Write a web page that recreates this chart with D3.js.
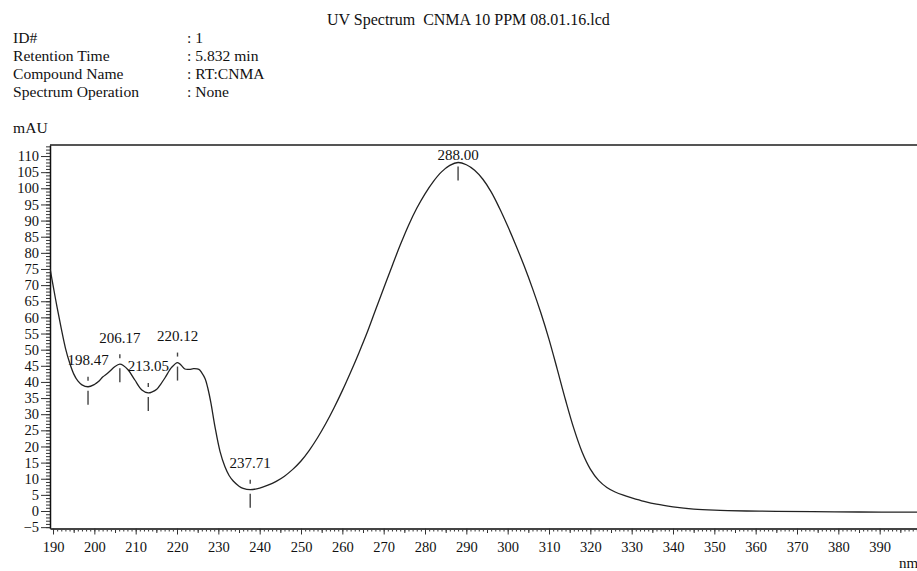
<!DOCTYPE html>
<html>
<head>
<meta charset="utf-8">
<script src="https://cdn.jsdelivr.net/npm/d3@7"></script>
<style>
  body { margin: 0; background: #fff; }
  svg { display: block; font-family: "Liberation Serif", "Times New Roman", serif; }
</style>
</head>
<body>
<div id="chart"></div>
<script>
// --- Data ---
const wavelengths = [189.3, 190, 191, 192, 193, 194, 195, 196, 197, 198.47, 200, 201, 202, 203.4, 205, 206.17,
  207, 208.2, 209.8, 211.5, 213.05, 214, 215.1, 216, 217.1, 218.7, 220.12, 221, 221.9, 223, 224, 225.3,
  226, 226.8, 227.5, 228.2, 229.2, 230.4, 231.6, 232.6, 233.6, 235, 236, 237.71,
  240, 242, 244, 246, 248, 250,
  252, 254, 256, 258, 260, 262, 264, 266, 268, 270, 272, 274, 276, 278, 280, 282, 284, 286, 288,
  290, 292, 294, 296, 298, 300, 302, 304, 306, 308, 310, 312, 314, 316, 318, 320, 322, 324, 326, 328, 330,
  333, 336, 340, 345, 350, 357.8, 365, 373.8, 385, 393, 401];
const absorbance = [75, 70, 63, 56.5, 50.5, 46, 42.5, 40.3, 39.1, 38.5, 39.2, 40.1, 41.5, 42.9, 44.8, 45.5,
  45.1, 43.7, 40.6, 37.5, 36.6, 36.9, 37.7, 39.2, 41.3, 44.5, 46.0, 45.2, 44.0, 43.9, 44.1, 43.9,
  42.8, 41.0, 37.8, 33.5, 26, 18.5, 13.7, 11.0, 9.3, 7.7, 7.0, 6.6,
  7.1, 8.0, 9.2, 10.8, 12.9, 15.5,
  18.8, 22.7, 27.1, 32.0, 37.3, 43.0, 49.0, 55.3, 62.2, 69.0, 75.8, 82.4, 88.5, 93.8, 98.3, 102.1, 105.1, 107.1, 108.0,
  107.3, 105.6, 102.8, 98.9, 93.9, 88.3, 82.3, 75.9, 69.0, 61.5, 53.2, 43.9, 34.4, 25.6, 18.3, 13.0, 9.5, 7.3, 5.9, 4.9, 4.1,
  3.0, 2.1, 1.3, 0.6, 0.25, 0.0, -0.1, -0.2, -0.3, -0.35, -0.35];

const peakNm = [198.47, 206.17, 213.05, 220.12, 237.71, 288.00];
const peakVal = [38.5, 45.5, 36.6, 46.0, 6.6, 108.0];

const headerLabels = ["ID#", "Retention Time", "Compound Name", "Spectrum Operation"];
const headerValues = [": 1", ": 5.832 min", ": RT:CNMA", ": None"];

const xMajorTicks = d3.range(190, 400, 10);
const yMajorTicks = d3.range(-5, 111, 5);

const chartTitle = "UV Spectrum  CNMA 10 PPM 08.01.16.lcd";

// --- Layout ---
const width = 917, height = 571;
const plot = { left: 50, top: 145, right: 921, bottom: 528.5 };
const ink = "#111";

const svg = d3.select("#chart").append("svg")
    .attr("width", width)
    .attr("height", height);

const x = d3.scaleLinear().domain([189.27, 400]).range([plot.left, plot.right]);
const y = d3.scaleLinear().domain([-5.42, 113.42]).range([plot.bottom, plot.top]);

// --- Title + header block ---
svg.append("text")
    .attr("x", 327).attr("y", 25)
    .attr("font-size", "16px")
    .attr("fill", ink)
    .style("white-space", "pre")
    .text(chartTitle);

const header = svg.append("g");
headerLabels.forEach((lbl, i) => {
    header.append("text")
        .attr("x", 13).attr("y", 43 + i * 18)
        .attr("font-size", "15.6px").attr("fill", ink)
        .text(lbl);
    header.append("text")
        .attr("x", 187).attr("y", 43 + i * 18)
        .attr("font-size", "15.6px").attr("fill", ink)
        .text(headerValues[i]);
});

svg.append("text")
    .attr("x", 13).attr("y", 133)
    .attr("font-size", "15.6px").attr("fill", ink)
    .text("mAU");

svg.append("text")
    .attr("x", 899).attr("y", 568)
    .attr("font-size", "15px").attr("fill", ink)
    .text("nm");

// --- Frame ---
svg.append("line")
    .attr("x1", plot.left).attr("x2", plot.right)
    .attr("y1", plot.top).attr("y2", plot.top)
    .attr("stroke", "#555").attr("stroke-width", 2);

// --- Axes ---
const yMinor = svg.append("g")
    .attr("transform", `translate(${plot.left},0)`)
    .call(d3.axisLeft(y).tickValues(d3.range(-5, 114, 1)).tickSize(4).tickFormat(""));
yMinor.select(".domain").remove();
yMinor.selectAll("line").attr("stroke", "#333");

const yAxis = svg.append("g")
    .attr("transform", `translate(${plot.left},0)`)
    .call(d3.axisLeft(y).tickValues(yMajorTicks).tickSize(9).tickSizeOuter(0).tickPadding(2));
yAxis.select(".domain").attr("stroke", ink).attr("stroke-width", 1.5);
yAxis.selectAll("line").attr("stroke", "#333");
yAxis.selectAll("text")
    .attr("font-family", "Liberation Serif")
    .attr("font-size", "14.5px")
    .attr("fill", ink);

const xMinor = svg.append("g")
    .attr("transform", `translate(0,${plot.bottom})`)
    .call(d3.axisBottom(x).tickValues(d3.range(190, 400, 1)).tickSize(3).tickFormat(""));
xMinor.select(".domain").remove();
xMinor.selectAll("line").attr("stroke", "#333");

const xMid = svg.append("g")
    .attr("transform", `translate(0,${plot.bottom})`)
    .call(d3.axisBottom(x).tickValues(d3.range(195, 400, 10)).tickSize(4.5).tickFormat(""));
xMid.select(".domain").remove();
xMid.selectAll("line").attr("stroke", "#333");

const xAxis = svg.append("g")
    .attr("transform", `translate(0,${plot.bottom})`)
    .call(d3.axisBottom(x).tickValues(xMajorTicks).tickSize(6).tickSizeOuter(0).tickPadding(7));
xAxis.select(".domain").attr("stroke", "#444").attr("stroke-width", 2);
xAxis.selectAll("line").attr("stroke", "#333");
xAxis.selectAll("text")
    .attr("font-family", "Liberation Serif")
    .attr("font-size", "14.5px")
    .attr("fill", ink);

// --- Spectrum line ---
svg.append("clipPath").attr("id", "plot-clip")
    .append("rect")
    .attr("x", plot.left).attr("y", plot.top)
    .attr("width", plot.right - plot.left).attr("height", plot.bottom - plot.top);

const points = wavelengths.map((w, i) => [w, absorbance[i]]);
const line = d3.line()
    .x(d => x(d[0]))
    .y(d => y(d[1]))
    .curve(d3.curveCatmullRom.alpha(0.5));

svg.append("path")
    .datum(points)
    .attr("clip-path", "url(#plot-clip)")
    .attr("fill", "none")
    .attr("stroke", "#222")
    .attr("stroke-width", 1.3)
    .attr("d", line);

// --- Peak / valley markers ---
const marks = svg.append("g");
peakNm.forEach((nm, i) => {
    const px = x(nm), py = y(peakVal[i]);
    let ly = py - 21.5;
    const clamped = ly < plot.top + 14;
    if (clamped) ly = plot.top + 14.5;

    marks.append("line")
        .attr("x1", px).attr("x2", px)
        .attr("y1", py + 4).attr("y2", py + 18)
        .attr("stroke", "#444").attr("stroke-width", 1.4);

    if (!clamped) {
        marks.append("line")
            .attr("x1", px).attr("x2", px)
            .attr("y1", py - 10).attr("y2", py - 6)
            .attr("stroke", "#444").attr("stroke-width", 1.4);
    }

    marks.append("text")
        .attr("x", px).attr("y", ly)
        .attr("text-anchor", "middle")
        .attr("font-size", "15px")
        .attr("fill", ink)
        .text(nm.toFixed(2));
});
</script>
</body>
</html>
